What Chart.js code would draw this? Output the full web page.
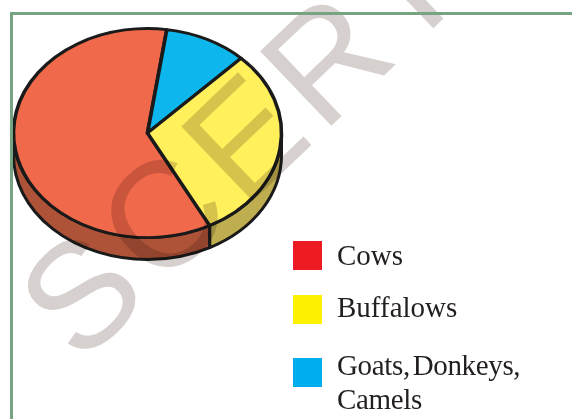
<!DOCTYPE html>
<html>
<head>
<meta charset="utf-8">
<title>Livestock</title>
<script src="https://cdn.jsdelivr.net/npm/chart.js@4/dist/chart.umd.min.js"></script>
<style>
  html, body { margin: 0; padding: 0; background: #fff; overflow: hidden; }
  #page { position: relative; width: 572px; height: 419px; }
  #page canvas { position: absolute; left: 0; top: 0; }
  .frame-top { position: absolute; left: 11px; top: 12px; right: 0; height: 3px; background: #76A381; }
  .frame-left { position: absolute; left: 10px; top: 12px; bottom: 0; width: 3px; background: #76A381; }
  .key { position: absolute; font: 29px/34px "Liberation Serif", serif; color: #231f20; white-space: pre-line; }
  .key.tight { letter-spacing: -0.35px; word-spacing: -4px; }
  .swatch { position: absolute; width: 29px; height: 29px; }
</style>
</head>
<body>
<div id="page">
  <canvas id="pie" width="572" height="419"></canvas>
  <div class="frame-top"></div>
  <div class="frame-left"></div>
</div>
<script>
// slices run clockwise from the cows wedge
const categories = ['Cows', 'Goats, Donkeys, Camels', 'Buffalows'];
const values = [60, 10, 30];
const faceColors = ['#F0694A', '#0DB7EE', '#FFF05C'];
const rimColors = ['#AE5338', '#AE5338', '#BFAE50'];

const legendColors = ['#ED1C24', '#FFF200', '#00AEEF'];
const legendText = ['Cows', 'Buffalows', 'Goats, Donkeys,\nCamels'];
const legendTop = [241, 295, 358];
const legendTextTop = [238, 290, 348];

const faceY = 133;      // centre of the top face on the page
const squash = 0.78;    // vertical flattening of the disc
const depth = 22;       // wall height

const outline = '#1a1a1a';

// flatten the pie and put a wall under it
const discPlugin = {
  id: 'disc',
  beforeDatasetsDraw(chart) {
    const ctx = chart.ctx;
    const arcs = chart.getDatasetMeta(0).data;
    const cx = arcs[0].x, cy = arcs[0].y, r = arcs[0].outerRadius;

    ctx.save();
    ctx.lineWidth = 3;
    ctx.strokeStyle = outline;
    ctx.lineJoin = 'round';
    arcs.forEach((arc, i) => {
      // only the front half of the disc shows its wall
      let a0 = arc.startAngle, a1 = arc.endAngle;
      const turn = Math.PI * 2;
      while (a0 < 0) { a0 += turn; a1 += turn; }
      if (a0 >= Math.PI) { a0 -= turn; a1 -= turn; }
      const from = Math.max(a0, 0), to = Math.min(a1, Math.PI);
      if (to <= from) return;
      ctx.beginPath();
      ctx.ellipse(cx, faceY, r, r * squash, 0, from, to);
      ctx.ellipse(cx, faceY + depth, r, r * squash, 0, to, from, true);
      ctx.closePath();
      ctx.fillStyle = rimColors[i];
      ctx.fill();
      ctx.stroke();
    });
    ctx.restore();

    ctx.save();
    ctx.translate(cx, faceY);
    ctx.scale(1, squash);
    ctx.translate(-cx, -cy);
  },
  afterDatasetsDraw(chart) {
    const ctx = chart.ctx;
    ctx.restore();

    // diagonal stamp printed across the sheet
    ctx.save();
    ctx.globalCompositeOperation = 'multiply';
    ctx.translate(80, 366);
    ctx.rotate(-43.7 * Math.PI / 180);
    ctx.font = '150px "Liberation Sans"';
    ctx.letterSpacing = '9px';
    ctx.fillStyle = '#D6D0CE';
    ctx.textBaseline = 'alphabetic';
    ctx.fillText('SCERT', 0, 0);
    ctx.restore();
  }
};

new Chart(document.getElementById('pie'), {
  type: 'pie',
  data: {
    labels: categories,
    datasets: [{
      data: values,
      backgroundColor: faceColors,
      borderColor: outline,
      borderWidth: 3.6,
      borderJoinStyle: 'round',
      clip: false
    }]
  },
  options: {
    responsive: false,
    animation: false,
    rotation: 152.3,
    radius: 134,
    layout: { padding: { left: 0, top: 0, right: 277, bottom: 124 } },
    plugins: { legend: { display: false }, tooltip: { enabled: false } }
  },
  plugins: [discPlugin]
});

// key on the lower right, in the order the sheet lists it
const page = document.getElementById('page');
legendText.forEach((label, row) => {
  const box = document.createElement('div');
  box.className = 'swatch';
  box.style.left = (row === 2 ? 292.5 : 293) + 'px';
  box.style.top = legendTop[row] + 'px';
  box.style.background = legendColors[row];
  page.appendChild(box);

  const txt = document.createElement('div');
  txt.className = row === 2 ? 'key tight' : 'key';
  txt.style.left = '337px';
  txt.style.top = legendTextTop[row] + 'px';
  txt.textContent = label;
  page.appendChild(txt);
});
</script>
</body>
</html>
